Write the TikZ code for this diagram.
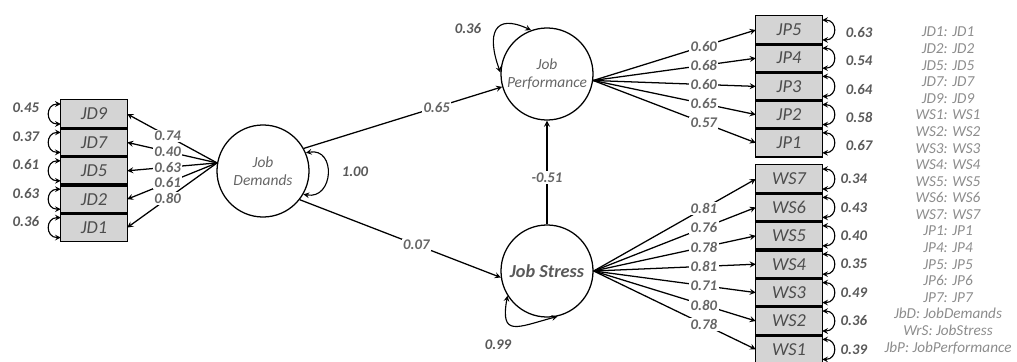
\documentclass[tikz,border=0pt]{standalone}
\usepackage{fontspec}
\setmainfont{Carlito}
\usetikzlibrary{positioning}

\begin{document}
\begin{tikzpicture}[x=0.025cm,y=0.025cm,>=stealth,
	latent/.style={circle,draw,line width=0.9pt,inner sep=0pt,minimum size=2.3cm,align=center,text=black!60,font=\fontsize{11}{12.5}\selectfont\itshape},
	obs/.style={rectangle,draw,line width=0.8pt,fill=black!17,minimum width=1.66cm,minimum height=0.71cm,inner sep=0pt,outer sep=0pt,text=black!70,font=\fontsize{13}{14}\selectfont\itshape},
	sepline/.style={line width=2.2pt},
	loadarr/.style={->,line width=0.9pt},
	covarr/.style={<->,line width=0.8pt},
	lbl/.style={fill=white,inner sep=1pt,text=black!60,font=\fontsize{10.5}{11}\selectfont\bfseries\itshape},
	elbl/.style={inner sep=1pt,text=black!65,font=\fontsize{10.5}{11}\selectfont\bfseries\itshape}
	]
	\useasboundingbox (0,0) rectangle (1017,-361);

	% latent variables
	\node[latent] (JbD) at (263,-171) {Job\\Demands};
	\node[latent] (JbP) at (547,-74) {Job\\Performance};
	\node[latent,text=black!65,font=\fontsize{13}{14}\selectfont\bfseries\itshape] (JbS) at (547,-271) {Job Stress};

	% job demands indicators
	\foreach \name/\load/\err [count=\i from 0] in {JD9/0.74/0.45,JD7/0.40/0.37,JD5/0.63/0.61,JD2/0.61/0.63,JD1/0.80/0.36}{
		\node[obs] (\name) at (94,{-114-28.4*\i}) {\name};
		\draw[loadarr] (JbD.170) -- node[lbl,pos=0.55]{\load} (\name.east);
		\draw[covarr] ([yshift=-3pt]\name.north west) to[out=180,in=180,looseness=2] ([yshift=3pt]\name.south west);
		\node[elbl,left=0.5cm of \name,yshift=0.15cm] (e\name) {\err};
	}
	\foreach \name in {JD9,JD7,JD5,JD2}
		\draw[sepline] (\name.south west) -- (\name.south east);

	% job performance indicators
	\foreach \name/\load/\err [count=\i from 0] in {JP5/0.60/0.63,JP4/0.68/0.54,JP3/0.60/0.64,JP2/0.65/0.58,JP1/0.57/0.67}{
		\node[obs] (\name) at (789,{-30-28.2*\i}) {\name};
		\draw[loadarr] (JbP.-8) -- node[lbl,pos=0.68]{\load} (\name.west);
		\draw[covarr] ([yshift=-3pt]\name.north east) to[out=0,in=0,looseness=2] ([yshift=3pt]\name.south east);
		\node[elbl,right=0.55cm of \name,yshift=-0.07cm] (e\name) {\err};
	}
	\foreach \name in {JP5,JP4,JP3,JP2}
		\draw[sepline] (\name.south west) -- (\name.south east);

	% job stress indicators
	\foreach \name/\load/\err [count=\i from 0] in {WS7/0.81/0.34,WS6/0.76/0.43,WS5/0.78/0.40,WS4/0.81/0.35,WS3/0.71/0.49,WS2/0.80/0.36,WS1/0.78/0.39}{
		\node[obs] (\name) at (789,{-179-28.4*\i}) {\name};
		\draw[loadarr] (JbS.east) -- node[lbl,pos=0.68]{\load} (\name.west);
		\draw[covarr] ([yshift=-3pt]\name.north east) to[out=0,in=0,looseness=2] ([yshift=3pt]\name.south east);
		\node[elbl,right=0.42cm of \name] (e\name) {\err};
	}
	\foreach \name in {WS7,WS6,WS5,WS4,WS3,WS2}
		\draw[sepline] (\name.south west) -- (\name.south east);

	% structural paths
	\draw[loadarr] (JbD.29) -- node[lbl,pos=0.67]{0.65} (JbP.196);
	\draw[loadarr] (JbD.-38) -- node[lbl,pos=0.58]{0.07} (JbS.188);
	\draw[loadarr] (JbS) -- node[lbl,pos=0.45]{-0.51} (JbP);

	% variances
	\draw[covarr] (JbD.23) to[out=10,in=-10,looseness=1.9] (JbD.-30);
	\node[elbl] (vJbD) at (355,-172) {1.00};
	\draw[covarr] (JbP.110) to[out=155,in=110,looseness=2] (JbP.178);
	\node[elbl] (vJbP) at (468,-29) {0.36};
	\draw[covarr] (JbS.212) to[out=260,in=195,looseness=2] (JbS.283);
	\node[elbl] (vJbS) at (498,-345) {0.99};

	% key
	\node[align=center,text=black!45,font=\fontsize{10.8}{11.8}\selectfont\itshape] (key) at (948,-190.5)
		{JD1: JD1\\JD2: JD2\\JD5: JD5\\JD7: JD7\\JD9: JD9\\WS1: WS1\\WS2: WS2\\WS3: WS3\\WS4: WS4\\WS5: WS5\\WS6: WS6\\WS7: WS7\\JP1: JP1\\JP4: JP4\\JP5: JP5\\JP6: JP6\\JP7: JP7\\JbD: JobDemands\\WrS: JobStress\\JbP: JobPerformance};

\end{tikzpicture}
\end{document}
